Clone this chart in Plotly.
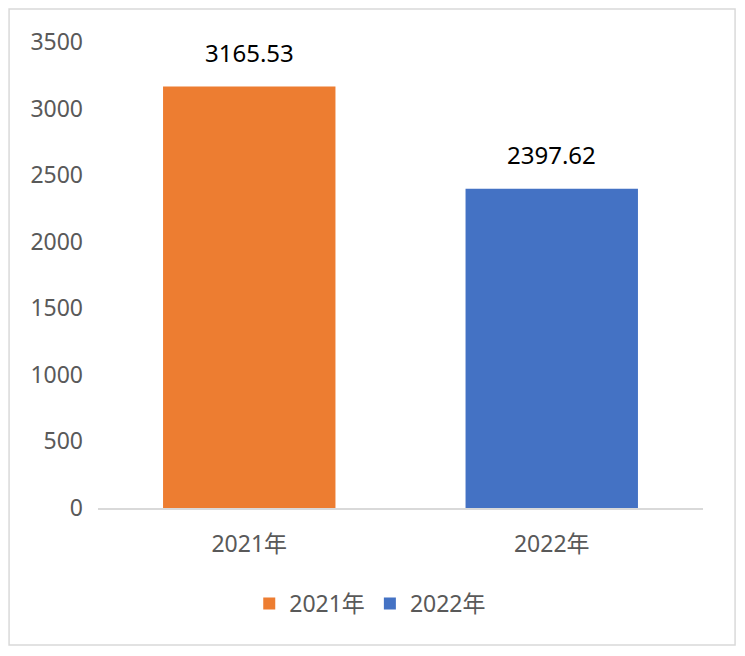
"""
Bar chart comparing the 2021 and 2022 totals.
"""

import plotly.graph_objects as go

categories = ["2021年", "2022年"]
values = [3165.53, 2397.62]
colors = ["#ED7D31", "#4472C4"]
y_ticks = [0, 500, 1000, 1500, 2000, 2500, 3000, 3500]

FONT = "Noto Sans, Noto Sans CJK SC, sans-serif"

fig = go.Figure()

# one trace per year so that each gets its own legend entry
for cat, val, col in zip(categories, values, colors):
    fig.add_trace(go.Bar(
        x=[cat],
        y=[val],
        name=cat,
        marker={"color": col, "line_width": 0},
    ))
    # value label floating above the bar
    fig.add_annotation(
        x=cat,
        y=val,
        text=f"{val:.2f}",
        showarrow=False,
        yanchor="middle",
        yshift=34,
        font={"size": 24, "color": "#000000", "family": FONT},
    )

fig.update_layout(
    width=729,
    height=640,
    barmode="relative",
    bargap=0.43,
    paper_bgcolor="white",
    plot_bgcolor="white",
    margin={"l": 90, "r": 34, "t": 34, "b": 140},
    font={"family": FONT, "size": 23, "color": "#595959"},
    showlegend=True,
    legend={
        "orientation": "h",
        "x": 0.45,
        "xanchor": "center",
        "y": -0.205,
        "yanchor": "middle",
        "font": {"size": 23, "color": "#595959"},
        "itemwidth": 30,
        "traceorder": "normal",
    },
    xaxis={
        "showgrid": False,
        "showline": True,
        "linecolor": "#D9D9D9",
        "linewidth": 1.5,
        "ticks": "",
        "ticklabelstandoff": 15,
    },
    yaxis={
        "range": [0, 3500],
        "tickvals": y_ticks,
        "showgrid": False,
        "zeroline": False,
        "showline": False,
        "ticks": "",
        "ticklabelstandoff": 14,
    },
    shapes=[{
        "type": "rect",
        "xref": "paper",
        "yref": "paper",
        "x0": -0.147,
        "x1": 1.053,
        "y0": -0.294,
        "y1": 1.071,
        "line": {"color": "#D9D9D9", "width": 1.5},
        "fillcolor": "rgba(0,0,0,0)",
    }],
)

fig.write_html("out.html")
